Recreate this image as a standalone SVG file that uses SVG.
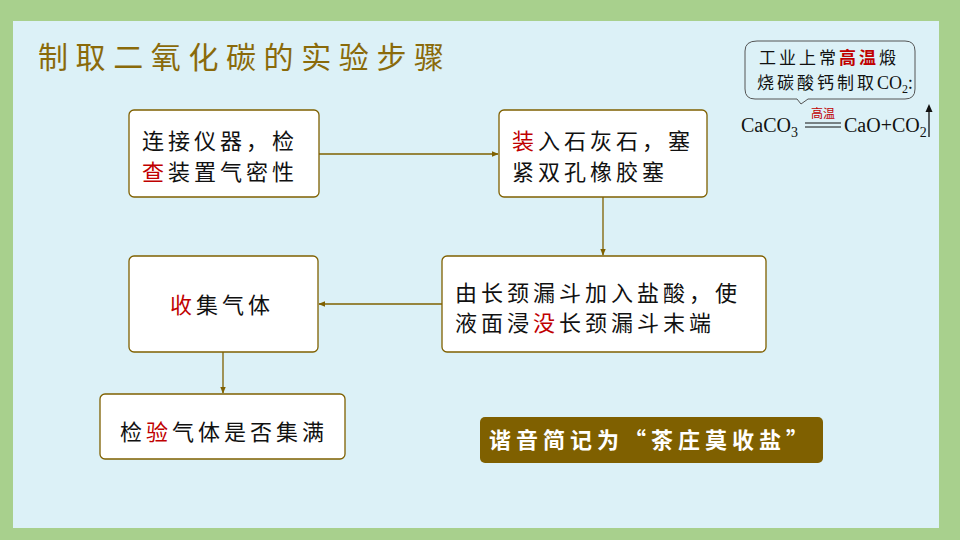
<svg xmlns="http://www.w3.org/2000/svg" width="960" height="540" viewBox="0 0 960 540">
<defs>
<style>
.box{fill:#ffffff;stroke:#7f6000;stroke-width:1.3}
.t{font-family:"Noto Sans CJK SC","Noto Sans",sans-serif;font-size:22px;fill:#111;letter-spacing:4px}
.r{fill:#c00000}
.conn{stroke:#7f6000;stroke-width:1.3;fill:none}
.cal{font-family:"Noto Sans CJK SC",sans-serif;font-size:17px;fill:#111;letter-spacing:3px}
.eq{font-family:"Liberation Serif","Noto Sans CJK SC",serif;font-size:20px;fill:#111}
</style>
<marker id="ah" viewBox="0 0 10 10" refX="9" refY="5" markerWidth="7" markerHeight="7" orient="auto" markerUnits="userSpaceOnUse">
<path d="M0,1 L10,5 L0,9 Z" fill="#7f6000"/>
</marker>
</defs>
<rect x="0" y="0" width="960" height="540" fill="#a8d08d"/>
<rect x="13" y="21" width="926" height="507" fill="#dcf1f7"/>
<text x="38" y="68" font-family="Noto Sans CJK SC,sans-serif" font-size="30" fill="#8a6a0a" letter-spacing="7.6">制取二氧化碳的实验步骤</text>

<g id="connectors">
<line class="conn" x1="319" y1="154" x2="498" y2="154" marker-end="url(#ah)"/>
<line class="conn" x1="603" y1="197" x2="603" y2="255" marker-end="url(#ah)"/>
<line class="conn" x1="442" y1="304" x2="319" y2="304" marker-end="url(#ah)"/>
<line class="conn" x1="223" y1="352" x2="223" y2="393" marker-end="url(#ah)"/>
</g>

<g id="n1">
<rect class="box" x="129" y="110" width="190" height="87" rx="5"/>
<text class="t" x="142" y="149">连接仪器，检</text>
<text class="t" x="142" y="180"><tspan class="r">查</tspan>装置气密性</text>
</g>
<g id="n2">
<rect class="box" x="499" y="110" width="208" height="87" rx="5"/>
<text class="t" x="512" y="149"><tspan class="r">装</tspan>入石灰石，塞</text>
<text class="t" x="512" y="180">紧双孔橡胶塞</text>
</g>
<g id="n3">
<rect class="box" x="442" y="256" width="324" height="96" rx="5"/>
<text class="t" x="455" y="301">由长颈漏斗加入盐酸，使</text>
<text class="t" x="455" y="331">液面浸<tspan class="r">没</tspan>长颈漏斗末端</text>
</g>
<g id="n4">
<rect class="box" x="129" y="256" width="189" height="96" rx="5"/>
<text class="t" x="222" y="313" text-anchor="middle"><tspan class="r">收</tspan>集气体</text>
</g>
<g id="n5">
<rect class="box" x="100" y="394" width="245" height="65" rx="5"/>
<text class="t" x="224" y="440" text-anchor="middle">检<tspan class="r">验</tspan>气体是否集满</text>
</g>

<g id="banner">
<rect x="480" y="417" width="343" height="46" rx="5" fill="#7f6000"/>
<text x="651" y="448" text-anchor="middle" font-family="Noto Sans CJK SC,sans-serif" font-size="22" font-weight="bold" fill="#ffffff" letter-spacing="5">谐音简记为“茶庄莫收盐”</text>
</g>

<g id="callout">
<path d="M757,41 L905,41 Q915,41 915,51 L915,89 Q915,99 905,99 L808,99 L801,104 L797,99 L755,99 Q745,99 745,89 L745,51 Q745,41 757,41 Z" fill="#dcf1f7" stroke="#555" stroke-width="1"/>
<text class="cal" x="759" y="64">工业上常<tspan fill="#c00000" font-weight="bold">高温</tspan>煅</text>
<text class="cal" x="757" y="89" letter-spacing="2">烧碳酸钙制取<tspan font-family="Liberation Serif,serif" font-size="18" letter-spacing="0">CO</tspan><tspan font-family="Liberation Serif,serif" font-size="12" dy="4" letter-spacing="0">2</tspan><tspan dy="-4" letter-spacing="0">:</tspan></text>
</g>
<g id="equation">
<text class="eq" x="741" y="132">CaCO<tspan font-size="14" dy="5">3</tspan></text>
<line x1="805" y1="123" x2="841" y2="123" stroke="#111" stroke-width="1"/>
<line x1="805" y1="127" x2="841" y2="127" stroke="#111" stroke-width="1"/>
<text x="823" y="118" text-anchor="middle" font-family="Noto Sans CJK SC,sans-serif" font-size="12" fill="#c00000">高温</text>
<text class="eq" x="844" y="132">CaO+CO<tspan font-size="14" dy="5">2</tspan></text>
<line x1="929" y1="137" x2="929" y2="109" stroke="#111" stroke-width="1.3"/>
<path d="M925.5,112 L929,104 L932.5,112 Z" fill="#111"/>
</g>
</svg>
